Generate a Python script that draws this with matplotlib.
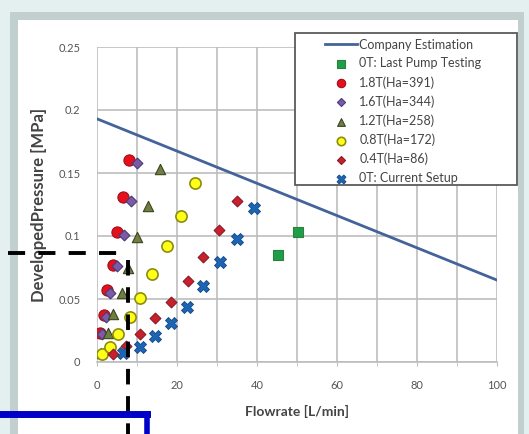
import numpy as np
import matplotlib.pyplot as plt
from matplotlib.patches import Rectangle
from matplotlib.lines import Line2D

plt.rcParams['font.family'] = ['Lato', 'DejaVu Sans']

# company estimation line
est_x = [0, 100]
est_y = [0.193, 0.065]

# 0T: last pump testing
last_x = [45.3, 50.3]
last_y = [0.085, 0.103]

# 1.8T (Ha=391)
t18_x = [0.7, 1.7, 2.5, 4.0, 5.0, 6.5, 8.0]
t18_y = [0.023, 0.037, 0.057, 0.077, 0.103, 0.131, 0.160]

# 1.6T (Ha=344)
t16_x = [1.3, 2.3, 3.3, 5.0, 6.8, 8.6, 10.0]
t16_y = [0.022, 0.036, 0.055, 0.076, 0.101, 0.128, 0.158]

# 1.2T (Ha=258)
t12_x = [1.0, 2.8, 4.0, 6.2, 7.8, 10.0, 12.8, 15.7]
t12_y = [0.007, 0.023, 0.038, 0.055, 0.075, 0.099, 0.124, 0.153]

# 0.8T (Ha=172)
t08_x = [1.2, 3.2, 5.3, 8.2, 10.7, 13.7, 17.5, 21.0, 24.5]
t08_y = [0.006, 0.012, 0.022, 0.036, 0.051, 0.070, 0.092, 0.116, 0.142]

# 0.4T (Ha=86)
t04_x = [4.0, 7.3, 10.7, 14.5, 18.5, 22.7, 26.5, 30.6, 35.0]
t04_y = [0.006, 0.013, 0.022, 0.035, 0.048, 0.064, 0.083, 0.105, 0.128]

# 0T: current setup
cur_x = [6.5, 10.7, 14.5, 18.5, 22.6, 26.6, 30.7, 35.0, 39.3]
cur_y = [0.007, 0.012, 0.021, 0.031, 0.044, 0.060, 0.079, 0.098, 0.122]

xticks = [0, 20, 40, 60, 80, 100]
yticks = [0, 0.05, 0.1, 0.15, 0.2, 0.25]
ytick_labels = ['0', '0.05', '0.1', '0.15', '0.2', '0.25']

W, H = 529, 434
fig = plt.figure(figsize=(W / 100, H / 100), dpi=100)
fig.patch.set_facecolor('#e4f0f0')

def px(x, y):
    return x / W, 1 - y / H

# chart frame
fig.add_artist(Rectangle(px(10, 434), 514 / W, 422 / H, transform=fig.transFigure,
                         facecolor='#c2cfcf', edgecolor='none', zorder=0))
fig.add_artist(Rectangle(px(18, 434), 500 / W, 414 / H, transform=fig.transFigure,
                         facecolor='white', edgecolor='none', zorder=0))

ax = fig.add_axes([97 / W, 72 / H, 400 / W, 315 / H])
ax.set_facecolor('none')

ax.plot(est_x, est_y, color='#44639a', lw=2, label='Company Estimation', zorder=3)
ax.scatter(last_x, last_y, marker='s', s=55, color='#1e9e48', edgecolors='#2f7f3f',
           lw=0.8, label='0T: Last Pump Testing', zorder=4)
ax.scatter(t18_x, t18_y, marker='o', s=65, color='#e5101a', edgecolors='#9a1020',
           lw=0.8, label='1.8T(Ha=391)', zorder=4)
ax.scatter(t16_x, t16_y, marker='D', s=30, color='#7b5ba8', edgecolors='#4a3a78',
           lw=0.8, label='1.6T(Ha=344)', zorder=4)
ax.scatter(t12_x, t12_y, marker='^', s=55, color='#6f7f40', edgecolors='#3a4420',
           lw=0.8, label='1.2T(Ha=258)', zorder=4)
ax.scatter(t08_x, t08_y, marker='o', s=65, color='#ffff1a', edgecolors='#8c8c10',
           lw=1.2, label='0.8T(Ha=172)', zorder=4)
ax.scatter(t04_x, t04_y, marker='D', s=30, color='#c8202c', edgecolors='#8a1a28',
           lw=0.8, label='0.4T(Ha=86)', zorder=4)
ax.scatter(cur_x, cur_y, marker='X', s=75, color='#1c64b4', edgecolors='#134a80',
           lw=0.6, label='0T: Current Setup', zorder=4)

ax.set_xlim(0, 100)
ax.set_ylim(0, 0.25)
ax.set_xticks(xticks)
ax.set_xticks(np.arange(0, 101, 10), minor=True)
ax.set_yticks(yticks)
ax.set_yticklabels(ytick_labels)
ax.grid(True, which='both', color='#bdbdbd', lw=1.2)
ax.set_axisbelow(True)
for s in ['top', 'right', 'left']:
    ax.spines[s].set_visible(False)
ax.spines['bottom'].set_color('#bdbdbd')
ax.spines['bottom'].set_linewidth(1.2)
ax.tick_params(axis='both', which='both', colors='#bdbdbd', labelcolor='#555555',
               labelsize=8, length=3)
ax.tick_params(axis='y', length=0, pad=12)
ax.tick_params(axis='x', pad=10)

ax.set_xlabel('Flowrate [L/min]', fontsize=10, fontweight='bold', color='#444444', labelpad=10)
ax.set_ylabel('DevelopedPressure [MPa]', fontsize=12, fontweight='bold', color='#444444',
              labelpad=8)

# legend box drawn separately (Excel style padding)
fig.add_artist(Rectangle(px(295, 185), 222 / W, 152 / H, transform=fig.transFigure,
                         facecolor='white', edgecolor='#5a5a5a', lw=1.3, zorder=5))
leg = fig.legend(loc='upper left', bbox_to_anchor=px(316, 30), fontsize=9,
                 frameon=False, labelspacing=0.53, handlelength=2.6, handletextpad=0.15,
                 borderpad=0.2, markerscale=0.75, labelcolor='#444444')
leg.set_zorder(6)

# annotation overlays
def line(xs, ys, **kw):
    fig.add_artist(Line2D([x / W for x in xs], [1 - y / H for y in ys],
                          transform=fig.transFigure, zorder=10, **kw))

line([8, 122], [253, 253], color='black', lw=2.8, dashes=(4.4, 3.4))
line([128, 128], [260, 434], color='black', lw=2.8, dashes=(4, 3))
line([0, 147], [413.5, 413.5], color='#0000c8', lw=5, solid_capstyle='projecting')
line([147, 147], [413.5, 434], color='#0000c8', lw=4)

plt.savefig('out.png', dpi=100)
